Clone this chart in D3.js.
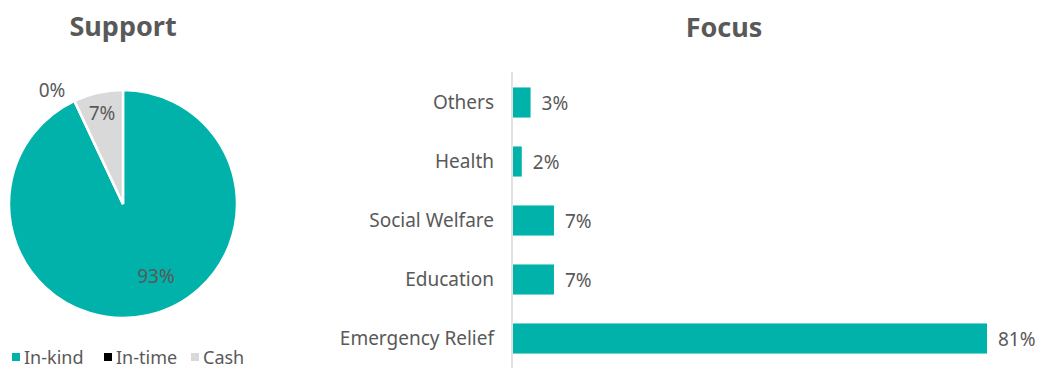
<!DOCTYPE html>
<html>
<head>
<script src="https://d3js.org/d3.v7.min.js"></script>
<style>
  body { margin: 0; background: #fff; }
  svg text { font-family: "Noto Sans", Lato, sans-serif; fill: #595959; }
  .title { font-size: 27px; font-weight: bold; }
  .lbl { font-size: 19px; }
  .legend text { font-size: 18px; }
</style>
</head>
<body>
<svg width="1041" height="368"></svg>
<script>
// pie data
const supportTypes = ["In-kind", "In-time", "Cash"];
const supportValues = [0.93, 0.0, 0.07];
const supportColors = ["#00b2a9", "#000000", "#d9d9d9"];

// bar data
const focusCategories = ["Others", "Health", "Social Welfare", "Education", "Emergency Relief"];
const focusValues = [0.03, 0.015, 0.07, 0.07, 0.81];

const svg = d3.select("svg");
const pct = d3.format(".0%");

// ---- pie ----
const cx = 123, cy = 204, r = 114;
svg.append("text").attr("class", "title")
  .attr("x", cx).attr("y", 36).attr("text-anchor", "middle").text("Support");

const pieData = d3.pie().sort(null)(supportValues);
const arc = d3.arc().innerRadius(0).outerRadius(r);
const pg = svg.append("g").attr("transform", `translate(${cx},${cy})`);
pg.selectAll("path").data(pieData).enter().append("path")
  .attr("d", arc)
  .attr("fill", (d, i) => supportColors[i])
  .attr("stroke", "#fff").attr("stroke-width", 2.5);

// label offsets from the centre
const labelPos = [[33, 72], [-71, -114], [-21, -91]];
pg.selectAll(".plbl").data(pieData).enter().append("text")
  .attr("class", "lbl")
  .attr("text-anchor", "middle")
  .attr("dy", "0.35em")
  .attr("transform", (d, i) => `translate(${labelPos[i]})`)
  .text((d, i) => pct(supportValues[i]));

// legend
const leg = svg.append("g").attr("class", "legend").attr("transform", "translate(0,358)");
const legX = [12, 104, 191];
const li = leg.selectAll("g").data(supportTypes).enter().append("g")
  .attr("transform", (d, i) => `translate(${legX[i]},0)`);
li.append("rect").attr("x", 0).attr("y", -5).attr("width", 8).attr("height", 8)
  .attr("fill", (d, i) => supportColors[i]);
li.append("text").attr("x", 12).attr("dy", "0.35em").text(d => d);

// ---- bars ----
const x0 = 512;
svg.append("text").attr("class", "title")
  .attr("x", 724).attr("y", 37).attr("text-anchor", "middle").text("Focus");

const x = d3.scaleLinear().domain([0, 0.81]).range([x0, 986]);
const y = d3.scaleBand().domain(focusCategories).range([73, 368]).paddingInner(0.49).paddingOuter(0.245);

svg.append("line").attr("x1", x0).attr("x2", x0).attr("y1", 72).attr("y2", 368)
  .attr("stroke", "#d9d9d9").attr("stroke-width", 1.5);

svg.selectAll(".bar").data(focusValues).enter().append("rect")
  .attr("x", x0 + 1)
  .attr("y", (d, i) => y(focusCategories[i]))
  .attr("width", d => x(d) - x0)
  .attr("height", y.bandwidth())
  .attr("fill", "#00b2a9");

svg.selectAll(".cat").data(focusCategories).enter().append("text")
  .attr("class", "lbl").attr("text-anchor", "end")
  .attr("x", 494).attr("y", d => y(d) + y.bandwidth() / 2).attr("dy", "0.35em")
  .text(d => d);

svg.selectAll(".val").data(focusValues).enter().append("text")
  .attr("class", "lbl")
  .attr("x", d => x(d) + 12).attr("y", (d, i) => y(focusCategories[i]) + y.bandwidth() / 2 + 1)
  .attr("dy", "0.35em")
  .text(d => pct(d));
</script>
</body>
</html>
